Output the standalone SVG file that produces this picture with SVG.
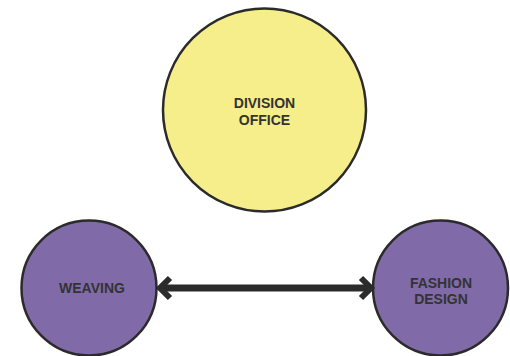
<svg xmlns="http://www.w3.org/2000/svg" width="510" height="356" viewBox="0 0 510 356">
<defs>
<style>
.node{stroke:#2b2b2b;stroke-width:2.5}
.yellow{fill:#f5ee8a}
.purple{fill:#806ba8}
.lbl{font-family:"Liberation Sans",Arial,sans-serif;font-weight:bold;font-size:14px;fill:#333333;text-anchor:middle}
.conn{stroke:#2b2b2b;stroke-width:7;fill:none}
.head{stroke:#2b2b2b;stroke-width:6;fill:none;stroke-linecap:butt;stroke-linejoin:miter}
</style>
</defs>
<rect width="510" height="356" fill="#ffffff"/>
<g id="division-office">
<circle class="node yellow" cx="264.5" cy="110" r="101.5"/>
<text class="lbl" x="264.5" y="108"><tspan x="264.5">DIVISION</tspan><tspan x="264.5" dy="16.5">OFFICE</tspan></text>
</g>
<g id="weaving">
<circle class="node purple" cx="89" cy="288" r="67.5"/>
<text class="lbl" x="92" y="293">WEAVING</text>
</g>
<g id="fashion-design">
<circle class="node purple" cx="440.5" cy="288" r="67.5"/>
<text class="lbl" x="441" y="287.5"><tspan x="441">FASHION</tspan><tspan x="441" dy="16.5">DESIGN</tspan></text>
</g>
<g id="connectors">
<line class="conn" x1="162" y1="288" x2="369" y2="288"/>
<polyline class="head" points="170,278 160,288 170,298"/>
<polyline class="head" points="361,278 371,288 361,298"/>
</g>
</svg>
